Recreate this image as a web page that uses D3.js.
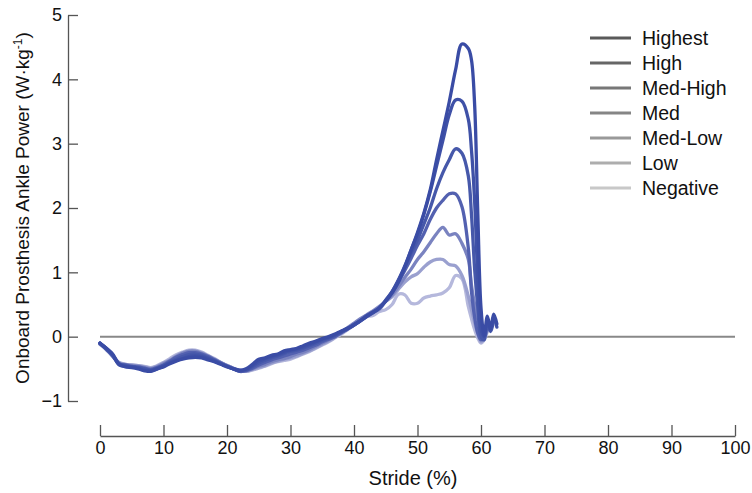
<!DOCTYPE html>
<html>
<head>
<meta charset="utf-8">
<script src="https://cdn.jsdelivr.net/npm/d3@7"></script>
<style>
  body { margin: 0; background: #fff; }
  svg { font-family: "Liberation Sans", Arial, sans-serif; }
</style>
</head>
<body>
<svg id="chart" width="752" height="493"></svg>
<script>
// Stride (%) sample points shared by all series.
var stride = [0,1,2,3,4,5,6,7,8,9,10,11,12,13,14,15,16,17,18,19,20,21,22,23,24,25,26,27,28,29,
  30,31,32,33,34,35,36,37,38,39,40,41,42,43,44,45,46,47,48,49,50,51,52,53,54,55,56,57,58,
  58.5,59,59.5,60,60.5,61,61.5,62,62.5];

// Ankle power (W/kg).
var highest = [-0.10,-0.18,-0.27,-0.43,-0.47,-0.48,-0.50,-0.53,-0.54,-0.50,-0.47,-0.42,-0.38,-0.35,-0.33,
  -0.32,-0.33,-0.36,-0.39,-0.43,-0.47,-0.50,-0.53,-0.50,-0.43,-0.35,-0.33,-0.29,-0.27,-0.22,
  -0.20,-0.18,-0.14,-0.10,-0.07,-0.03,0.00,0.04,0.09,0.13,0.19,0.25,0.32,0.38,0.45,
  0.55,0.68,0.85,1.08,1.35,1.62,1.92,2.28,2.75,3.2,3.65,4.15,4.55,4.48,
  4.3,3.6,1.9,0.45,0.02,0.32,0.12,0.35,0.2];
var high = [-0.10,-0.19,-0.28,-0.44,-0.46,-0.47,-0.49,-0.52,-0.53,-0.50,-0.46,-0.41,-0.37,-0.34,-0.31,
  -0.30,-0.31,-0.34,-0.38,-0.42,-0.46,-0.50,-0.52,-0.51,-0.45,-0.38,-0.34,-0.31,-0.28,-0.24,
  -0.21,-0.19,-0.16,-0.12,-0.08,-0.04,-0.01,0.03,0.08,0.13,0.18,0.24,0.31,0.37,0.44,
  0.56,0.70,0.88,1.10,1.35,1.60,1.90,2.25,2.65,3.05,3.45,3.68,3.66,3.38,
  2.9,2.1,0.9,0.12,0.0,0.25,0.1,0.3,0.15];
var medHigh = [-0.11,-0.18,-0.29,-0.42,-0.45,-0.47,-0.48,-0.50,-0.52,-0.49,-0.45,-0.40,-0.35,-0.31,-0.28,
  -0.27,-0.29,-0.33,-0.37,-0.42,-0.46,-0.50,-0.53,-0.52,-0.47,-0.41,-0.37,-0.33,-0.30,-0.26,
  -0.23,-0.21,-0.18,-0.14,-0.10,-0.06,-0.02,0.02,0.07,0.12,0.18,0.25,0.32,0.38,0.44,
  0.57,0.70,0.88,1.08,1.30,1.50,1.75,2.00,2.30,2.55,2.75,2.92,2.85,2.50,
  1.9,1.05,0.45,0.0,-0.05,0.2,0.08,0.25,null];
var med = [-0.10,-0.20,-0.30,-0.43,-0.44,-0.46,-0.47,-0.49,-0.51,-0.48,-0.44,-0.38,-0.32,-0.28,-0.25,
  -0.25,-0.27,-0.31,-0.36,-0.41,-0.46,-0.50,-0.54,-0.53,-0.49,-0.44,-0.40,-0.36,-0.33,-0.30,
  -0.27,-0.24,-0.21,-0.17,-0.13,-0.08,-0.04,0.00,0.06,0.12,0.18,0.25,0.33,0.38,0.45,
  0.56,0.68,0.85,1.03,1.22,1.42,1.60,1.82,2.00,2.12,2.22,2.22,2.02,1.38,
  0.7,0.3,0.05,-0.05,0.0,0.18,0.1,null,null];
var medLow = [-0.11,-0.19,-0.30,-0.41,-0.44,-0.45,-0.46,-0.48,-0.50,-0.47,-0.42,-0.37,-0.31,-0.26,-0.23,
  -0.23,-0.26,-0.30,-0.35,-0.40,-0.45,-0.49,-0.53,-0.53,-0.50,-0.46,-0.43,-0.39,-0.36,-0.34,
  -0.31,-0.27,-0.24,-0.20,-0.15,-0.10,-0.05,0.01,0.07,0.14,0.21,0.28,0.34,0.40,0.47,
  0.55,0.65,0.78,0.92,1.05,1.20,1.32,1.46,1.60,1.70,1.58,1.60,1.45,1.20,
  0.8,0.5,0.26,0.04,0.0,0.12,null,null,null];
var low = [-0.12,-0.20,-0.31,-0.40,-0.43,-0.44,-0.45,-0.47,-0.49,-0.46,-0.41,-0.36,-0.30,-0.25,-0.22,
  -0.22,-0.25,-0.30,-0.35,-0.40,-0.45,-0.49,-0.52,-0.54,-0.51,-0.48,-0.45,-0.41,-0.38,-0.35,
  -0.33,-0.30,-0.26,-0.22,-0.17,-0.12,-0.07,-0.01,0.05,0.12,0.19,0.26,0.33,0.38,0.42,
  0.55,0.62,0.74,0.85,0.93,0.98,1.08,1.16,1.20,1.20,1.12,1.10,0.95,0.63,
  0.42,0.22,0.05,-0.08,-0.02,0.1,null,null,null];
var negative = [-0.11,-0.19,-0.30,-0.41,-0.43,-0.44,-0.45,-0.46,-0.48,-0.45,-0.40,-0.34,-0.28,-0.24,-0.21,
  -0.21,-0.24,-0.29,-0.34,-0.40,-0.45,-0.49,-0.53,-0.54,-0.52,-0.49,-0.46,-0.42,-0.39,-0.37,
  -0.35,-0.31,-0.27,-0.23,-0.18,-0.13,-0.08,-0.02,0.04,0.11,0.18,0.25,0.31,0.33,0.39,
  0.42,0.50,0.66,0.65,0.52,0.52,0.60,0.63,0.65,0.68,0.76,0.95,0.90,0.47,
  0.28,0.11,-0.02,-0.1,-0.05,0.08,null,null,null];

var seriesNames = ['Highest', 'High', 'Med-High', 'Med', 'Med-Low', 'Low', 'Negative'];
var seriesValues = [highest, high, medHigh, med, medLow, low, negative];
var lineColors = ['#3a4ca5', '#3f51a7', '#4658aa', '#5361b0', '#7a83c0', '#9aa0cf', '#b5b8dc'];
var legendColors = ['#5a5a5a', '#666666', '#777777', '#858585', '#999999', '#adadad', '#c8c8c8'];
var xTicks = [0, 10, 20, 30, 40, 50, 60, 70, 80, 90, 100];
var yTicks = [-1, 0, 1, 2, 3, 4, 5];

var svg = d3.select('#chart');

var x = d3.scaleLinear().domain([0, 100]).range([100, 735]);
var y = d3.scaleLinear().domain([-1, 5]).range([401, 15]);

// Y axis, ticks pointing inward.
var yAxis = svg.append('g')
  .attr('transform', 'translate(68,0)')
  .call(d3.axisLeft(y).tickValues(yTicks).tickSizeInner(-10).tickSizeOuter(0).tickPadding(6)
    .tickFormat(d3.format('d')));
yAxis.selectAll('text').attr('font-size', 18).attr('fill', '#111');

// X axis, offset below the plot.
var xAxis = svg.append('g')
  .attr('transform', 'translate(0,436)')
  .call(d3.axisBottom(x).tickValues(xTicks).tickSizeInner(-11).tickSizeOuter(0).tickPadding(5));
xAxis.selectAll('text').attr('font-size', 18).attr('fill', '#111');

svg.selectAll('.domain, .tick line').attr('stroke', '#555').attr('stroke-width', 1.3);

// Zero line.
svg.append('line')
  .attr('x1', x(0)).attr('x2', x(100))
  .attr('y1', y(0)).attr('y2', y(0))
  .attr('stroke', '#888').attr('stroke-width', 2);

// Axis titles.
svg.append('text')
  .attr('x', 413).attr('y', 485)
  .attr('text-anchor', 'middle')
  .attr('font-size', 20).attr('fill', '#111')
  .text('Stride (%)');

var yTitle = svg.append('text')
  .attr('transform', 'translate(29,' + ((y(5) + y(-1)) / 2) + ') rotate(-90)')
  .attr('text-anchor', 'middle')
  .attr('font-size', 19).attr('fill', '#111');
yTitle.append('tspan').text('Onboard Prosthesis Ankle Power (W\u00b7kg');
yTitle.append('tspan').attr('baseline-shift', 'super').attr('font-size', 12).text('-1');
yTitle.append('tspan').text(')');

// Lines, lightest first so darker ones sit on top.
var line = d3.line()
  .defined(function(d) { return d.v !== null; })
  .x(function(d) { return x(d.s); })
  .y(function(d) { return y(d.v); })
  .curve(d3.curveCatmullRom);

for (var k = seriesValues.length - 1; k >= 0; k--) {
  var pts = stride.map(function(s, i) { return {s: s, v: seriesValues[k][i]}; });
  svg.append('path')
    .datum(pts)
    .attr('d', line)
    .attr('fill', 'none')
    .attr('stroke', lineColors[k])
    .attr('stroke-width', 3.3)
    .attr('stroke-linejoin', 'round')
    .attr('stroke-linecap', 'round');
}

// Legend.
var legend = svg.append('g').attr('transform', 'translate(590,38)');
seriesNames.forEach(function(name, i) {
  legend.append('line')
    .attr('x1', 0).attr('x2', 41)
    .attr('y1', i * 25).attr('y2', i * 25)
    .attr('stroke', legendColors[i]).attr('stroke-width', 3);
  legend.append('text')
    .attr('x', 52).attr('y', i * 25)
    .attr('dy', '0.36em')
    .attr('font-size', 19.5).attr('fill', '#111')
    .text(name);
});
</script>
</body>
</html>
